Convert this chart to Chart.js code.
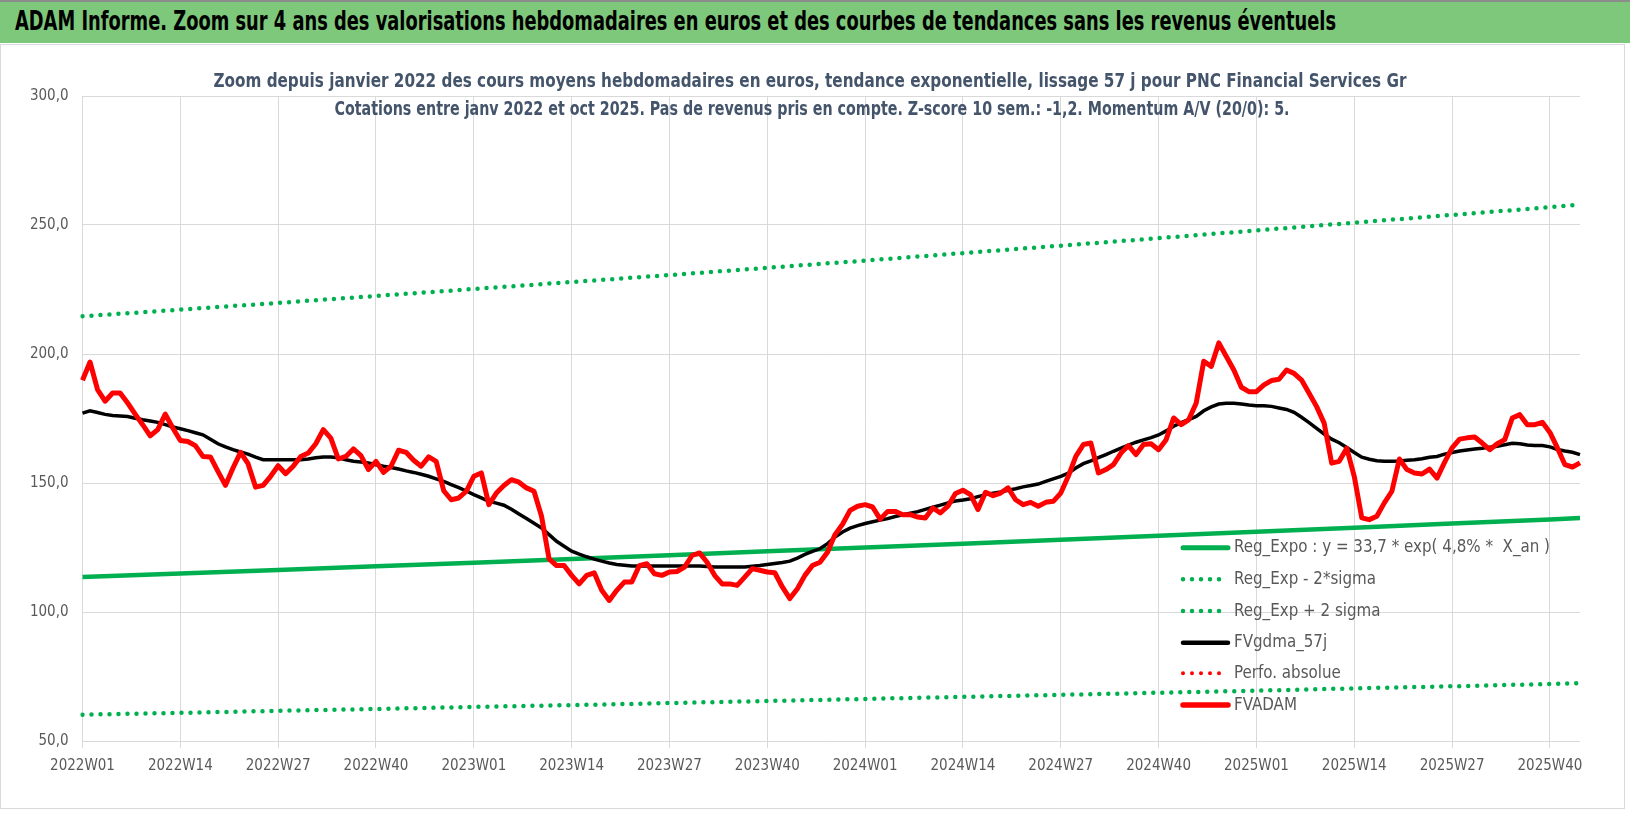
<!DOCTYPE html>
<html lang="fr">
<head>
<meta charset="utf-8">
<title>ADAM Informe - PNC Financial Services</title>
<script src="https://cdn.jsdelivr.net/npm/chart.js@4.4.1/dist/chart.umd.min.js"></script>
<style>
  html, body { margin: 0; padding: 0; background: #fff; }
  body { width: 1630px; height: 815px; position: relative; overflow: hidden; font-family: 'DejaVu Sans Condensed', 'DejaVu Sans', sans-serif; }
  #banner { position: absolute; left: 0; top: 0; width: 1630px; height: 43px; background: #7ec87c; border-top: 2px solid #8c8c8c; box-sizing: border-box; }
  #banner span { position: absolute; left: 15px; top: 4px; font-weight: bold; font-size: 26px; color: #000; white-space: nowrap; transform-origin: 0 0; }
  #frame { position: absolute; left: 0; top: 44px; width: 1625px; height: 765px; border: 1px solid #d9d9d9; box-sizing: border-box; }
  #c { position: absolute; left: 0; top: 0; }
</style>
</head>
<body>
<div id="banner"><span id="banner-text">ADAM Informe. Zoom sur 4 ans des valorisations hebdomadaires en euros et des courbes de tendances sans les revenus éventuels</span></div>
<div id="frame"></div>
<canvas id="c" width="1630" height="815"></canvas>
<script>
// Chart titles
const titleLines = [
  'Zoom depuis janvier 2022 des cours moyens hebdomadaires en euros, tendance exponentielle, lissage 57 j pour PNC Financial Services Gr',
  'Cotations entre janv 2022 et oct 2025. Pas de revenus pris en compte. Z-score 10 sem.: -1,2. Momentum A/V (20/0): 5.'
];

// Weekly categories 2022W01 .. 2025W44
const weeksPerYear = { 2022: 52, 2023: 52, 2024: 52, 2025: 44 };
const categories = [];
Object.keys(weeksPerYear).forEach(year => {
  for (let w = 1; w <= weeksPerYear[year]; w++) {
    categories.push(year + 'W' + String(w).padStart(2, '0'));
  }
});

// FVADAM - weekly average price
const fvadam = [
  189.8, 196.9, 186.2, 181.7, 184.9, 184.9, 181.0, 176.7, 172.6, 168.3,
  170.7, 176.7, 171.3, 166.5, 166.1, 164.5, 160.3, 160.1, 154.5, 149.1,
  155.8, 161.9, 157.5, 148.4, 149.1, 152.6, 156.7, 153.6, 156.5, 160.3,
  161.6, 165.2, 170.7, 167.4, 159.3, 160.3, 163.2, 160.6, 155.2, 158.4,
  154.1, 156.5, 162.7, 161.9, 158.8, 156.5, 160.1, 158.4, 147.0, 143.5,
  144.2, 146.8, 152.6, 153.9, 141.6, 146.1, 149.0, 151.3, 150.3, 148.1,
  146.8, 137.1, 120.6, 118.0, 118.0, 114.2, 110.9, 114.2, 115.2, 108.4,
  104.5, 108.4, 111.6, 111.6, 118.0, 118.7, 114.8, 114.2, 115.5, 115.7,
  117.4, 121.9, 122.9, 119.3, 114.2, 110.9, 110.9, 110.3, 113.5, 116.8,
  116.2, 115.5, 115.2, 109.7, 105.2, 109.0, 114.2, 118.0, 119.3, 123.2,
  130.0, 134.0, 139.4, 141.0, 141.6, 140.7, 136.0, 139.0, 139.0, 137.7,
  137.7, 136.8, 136.4, 140.3, 138.4, 141.0, 145.9, 147.2, 145.5, 139.7,
  146.4, 145.1, 146.1, 148.1, 143.5, 141.6, 142.5, 141.0, 142.5, 142.9,
  146.1, 152.6, 160.3, 164.9, 165.5, 153.9, 155.2, 157.1, 161.6, 164.5,
  161.0, 164.9, 165.2, 162.9, 166.8, 175.2, 172.6, 174.5, 181.0, 197.2,
  195.2, 204.3, 199.0, 193.8, 187.1, 185.4, 185.4, 188.0, 189.7, 190.2,
  193.8, 192.5, 189.9, 184.8, 179.6, 173.2, 157.7, 158.4, 163.5, 152.6,
  136.5, 135.8, 137.1, 142.3, 146.8, 159.3, 155.2, 153.9, 153.5, 155.4,
  151.9, 158.0, 163.6, 167.0, 167.5, 167.8, 165.5, 162.9, 165.2, 166.8,
  175.2, 176.5, 172.6, 172.6, 173.5, 169.6, 163.6, 157.1, 156.2, 157.8
];

// FVgdma_57j - smoothed curve
const fvgdma57 = [
  177.1, 178.0, 177.3, 176.6, 176.2, 176.0, 175.8, 175.1, 174.5, 174.0,
  173.5, 172.6, 171.7, 171.0, 170.3, 169.5, 168.7, 167.0, 165.2, 164.0,
  162.9, 162.0, 161.2, 160.0, 159.0, 159.0, 159.0, 159.0, 159.0, 159.0,
  159.3, 159.8, 160.1, 160.1, 159.8, 159.0, 158.4, 158.1, 157.8, 157.1,
  156.5, 156.0, 155.4, 154.7, 154.1, 153.4, 152.6, 151.6, 150.6, 149.4,
  148.2, 146.9, 145.5, 144.2, 142.9, 142.2, 141.4, 139.8, 138.0, 136.2,
  134.4, 132.6, 130.0, 127.4, 125.5, 123.6, 122.4, 121.4, 120.5, 119.7,
  119.0, 118.4, 118.1, 117.8, 117.8, 117.8, 117.8, 117.8, 117.8, 117.8,
  117.8, 117.8, 117.8, 117.6, 117.4, 117.4, 117.4, 117.4, 117.4, 117.7,
  118.0, 118.4, 118.8, 119.2, 119.7, 120.9, 122.3, 123.5, 124.5, 126.5,
  129.0, 131.0, 132.5, 133.5, 134.3, 135.0, 135.6, 136.2, 137.0, 137.7,
  138.3, 138.9, 139.8, 140.6, 141.4, 142.3, 143.0, 143.4, 143.9, 144.7,
  145.5, 146.0, 146.5, 147.2, 147.8, 148.5, 149.0, 149.6, 150.6, 151.6,
  152.6, 153.8, 155.8, 157.5, 158.6, 159.8, 161.0, 162.3, 163.5, 164.7,
  165.8, 166.7, 167.6, 168.6, 170.2, 172.0, 173.4, 174.6, 175.8, 178.0,
  179.5, 180.6, 180.9, 180.9, 180.6, 180.2, 179.9, 179.9, 179.7, 179.1,
  178.5, 177.4, 175.5, 173.4, 171.2, 169.0, 167.0, 165.6, 163.8, 161.8,
  160.0, 159.2, 158.6, 158.4, 158.4, 158.5, 158.8, 159.0, 159.4, 160.0,
  160.3, 161.2, 161.8, 162.4, 162.8, 163.2, 163.5, 163.9, 164.2, 164.8,
  165.4, 165.2, 164.7, 164.5, 164.5, 164.0, 163.0, 162.4, 161.9, 161.0
];

// Regression curves, read at each labelled week and at the last week
const regWeeks = [0, 13, 26, 39, 52, 65, 78, 91, 104, 117, 130, 143, 156, 169, 182, 195, 199];
const regExpo = [113.6, 114.9, 116.3, 117.7, 119.1, 120.5, 122.0, 123.5, 125.0, 126.5, 128.0, 129.6, 131.1, 132.7, 134.3, 135.9, 136.4];
const regLow = [60.2, 60.9, 61.7, 62.4, 63.2, 63.9, 64.7, 65.5, 66.3, 67.1, 67.9, 68.7, 69.5, 70.4, 71.2, 72.1, 72.4];
const regHigh = [214.6, 217.2, 219.8, 222.5, 225.2, 227.9, 230.6, 233.4, 236.2, 239.1, 242.0, 244.9, 247.9, 250.9, 253.9, 256.9, 257.9];

const GREEN = '#00b050';
const FONT = "'DejaVu Sans Condensed', 'DejaVu Sans', sans-serif";
const TEXT_GREY = '#595959';

function regPoints(values) {
  return regWeeks.map((w, i) => ({ x: categories[w], y: values[i] }));
}

// Fit the banner text to the reference width
function fitBanner() {
  const span = document.getElementById('banner-text');
  const k = 1321 / span.offsetWidth;
  span.style.transform = 'scaleX(' + k + ')';
}

// Draw text squeezed or stretched to a target width
function fitText(ctx, text, x, y, targetWidth) {
  const w = ctx.measureText(text).width;
  ctx.save();
  ctx.translate(x, y);
  ctx.scale(targetWidth / w, 1);
  ctx.fillText(text, 0, 0);
  ctx.restore();
}

// Titles drawn over the top of the plot, like the original
const titlePlugin = {
  id: 'adamTitles',
  afterDraw(chart) {
    const ctx = chart.ctx;
    ctx.save();
    ctx.fillStyle = '#44546a';
    ctx.font = 'bold 20px ' + FONT;
    ctx.textAlign = 'center';
    ctx.textBaseline = 'alphabetic';
    fitText(ctx, titleLines[0], 810, 87, 1193);
    fitText(ctx, titleLines[1], 812, 115, 955);
    ctx.restore();
  }
};

// Legend drawn inside the plot area, lower right
const legendPlugin = {
  id: 'adamLegend',
  afterDatasetsDraw(chart) {
    const ctx = chart.ctx;
    const rows = [547.7, 579.3, 611, 642.7, 673.3, 705];
    const x0 = 1183, x1 = 1228, tx = 1234;
    ctx.save();
    ctx.font = '18px ' + FONT;
    ctx.textBaseline = 'middle';
    ctx.textAlign = 'left';
    const k = 316 / ctx.measureText(chart.data.datasets[0].label).width;
    chart.data.datasets.forEach((ds, i) => {
      const y = rows[i];
      ctx.beginPath();
      ctx.strokeStyle = ds.borderColor;
      ctx.lineWidth = ds.legendWidth;
      ctx.lineCap = 'round';
      ctx.setLineDash(ds.borderDash || []);
      ctx.moveTo(x0, y);
      ctx.lineTo(x1, y);
      ctx.stroke();
      ctx.setLineDash([]);
      ctx.fillStyle = TEXT_GREY;
      ctx.save();
      ctx.translate(tx, y);
      ctx.scale(k, 1);
      ctx.fillText(ds.label, 0, 0);
      ctx.restore();
    });
    ctx.restore();
  }
};

function renderChart() {
  const ctx = document.getElementById('c').getContext('2d');
  const dotted = [0, 9];

  new Chart(ctx, {
    type: 'line',
    data: {
      labels: categories,
      datasets: [
        { label: 'Reg_Expo : y = 33,7 * exp( 4,8% *  X_an )', data: regPoints(regExpo),
          borderColor: GREEN, borderWidth: 4.5, legendWidth: 5, order: 2 },
        { label: 'Reg_Exp - 2*sigma', data: regPoints(regLow),
          borderColor: GREEN, borderWidth: 4.5, legendWidth: 4.5, borderDash: dotted, borderCapStyle: 'round', order: 3 },
        { label: 'Reg_Exp + 2 sigma', data: regPoints(regHigh),
          borderColor: GREEN, borderWidth: 4.5, legendWidth: 4.5, borderDash: dotted, borderCapStyle: 'round', order: 3 },
        { label: 'FVgdma_57j', data: fvgdma57,
          borderColor: '#000000', borderWidth: 3.5, legendWidth: 4.5, order: 1 },
        { label: 'Perfo. absolue', data: [],
          borderColor: '#ff0000', borderWidth: 4, legendWidth: 4, borderDash: dotted, borderCapStyle: 'round', order: 4 },
        { label: 'FVADAM', data: fvadam,
          borderColor: '#ff0000', borderWidth: 5, legendWidth: 5.5, borderJoinStyle: 'round', order: 0 }
      ]
    },
    options: {
      responsive: false,
      animation: false,
      events: [],
      elements: { point: { radius: 0 }, line: { tension: 0, fill: false } },
      layout: { padding: { top: 96, right: 50, bottom: 14, left: 0 } },
      plugins: {
        legend: { display: false },
        title: { display: false },
        tooltip: { enabled: false }
      },
      scales: {
        x: {
          type: 'category',
          offset: false,
          grid: { color: '#d9d9d9', lineWidth: 1, tickLength: 7 },
          border: { display: false },
          ticks: { autoSkip: false, maxRotation: 0, padding: 9, color: TEXT_GREY, font: { family: FONT, size: 15 } },
          afterBuildTicks: scale => { scale.ticks = scale.ticks.filter(t => t.value % 13 === 0); },
          afterFit: scale => { scale.height = 60; }
        },
        y: {
          min: 50,
          max: 300,
          grid: { color: '#d9d9d9', lineWidth: 1, drawTicks: false },
          border: { display: false },
          ticks: {
            stepSize: 50,
            padding: 14,
            color: TEXT_GREY,
            font: { family: FONT, size: 15 },
            callback: v => v.toFixed(1).replace('.', ',')
          },
          afterFit: scale => { scale.width = 82.5; }
        }
      }
    },
    plugins: [titlePlugin, legendPlugin]
  });
}

document.addEventListener('DOMContentLoaded', function() {
  fitBanner();
  renderChart();
});
</script>
</body>
</html>
